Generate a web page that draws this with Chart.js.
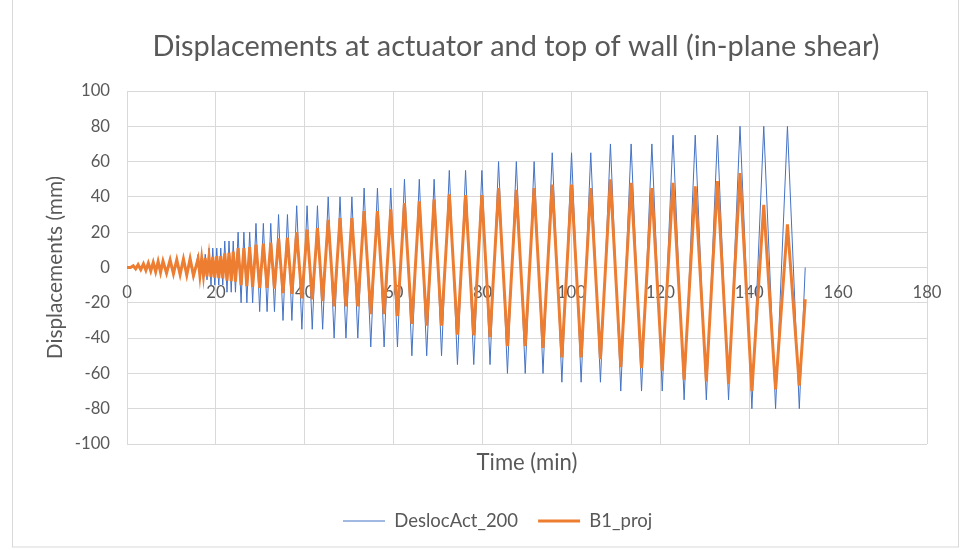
<!DOCTYPE html>
<html><head><meta charset="utf-8">
<script src="https://cdn.jsdelivr.net/npm/chart.js@4.4.1/dist/chart.umd.min.js"></script>
<style>html,body{margin:0;padding:0;background:#fff;}canvas{display:block;}</style>
</head><body>
<canvas id="c" width="965" height="550"></canvas>
<script>
// ---------- data ----------
const chartTitle = 'Displacements at actuator and top of wall (in-plane shear)';
const xTitle = 'Time (min)';
const yTitle = 'Displacements (mm)';
const seriesNames = ['DeslocAct_200', 'B1_proj'];
const xTickValues = [0, 20, 40, 60, 80, 100, 120, 140, 160, 180];
const yTickValues = [-100, -80, -60, -40, -20, 0, 20, 40, 60, 80, 100];

// turning points of the cyclic history (time in minutes)
const timeMin = [
  0, 0.8,
  1.4, 1.95, 2.5, 3.1, 3.7, 4.25, 4.8, 5.35, 5.9, 6.45, 7.0, 7.55, 8.1, 8.9,
  9.7, 10.45, 11.2, 11.95, 12.7, 13.45, 14.2, 14.95,
  16.0, 16.4, 16.8, 17.2, 17.6, 18.0,
  18.45, 18.9, 19.3, 19.75, 20.2, 20.65, 21.1, 21.55,
  22.0, 22.5, 22.95, 23.45, 23.9, 24.4,
  25.0, 25.67, 26.3, 26.97, 27.6, 28.27,
  29.02, 29.85, 30.68, 31.52, 32.35, 33.18,
  34.1, 35.1, 36.1, 37.1,
  38.18, 39.35, 40.52, 41.68, 42.85, 44.02,
  45.27, 46.6, 47.93, 49.27, 50.6, 51.93,
  53.35, 54.85, 56.35, 57.85, 59.35, 60.85,
  62.43, 64.1, 65.77, 67.43, 69.1, 70.77,
  72.52, 74.35, 76.18, 78.02, 79.85, 81.68,
  83.6, 85.6, 87.6, 89.6, 91.6, 93.6,
  95.68, 97.85, 100.02, 102.18, 104.35, 106.52,
  108.77, 111.1, 113.43, 115.77, 118.1, 120.43,
  122.85, 125.35, 127.85, 130.35, 132.85, 135.35,
  137.93, 140.6, 143.27, 145.93, 148.6, 151.27,
  152.6
];
const deslocAct200 = [
  0, 0,
  1.2, -1.0, 1.8, -1.5, 2.3, -2.0, 2.7, -2.5, 3.1, -3.0, 3.6, -3.5, 3.9, -4.0,
  4.5, -4.5, 4.7, -5.0, 5.0, -5.5, 5.3, -6.0,
  7.5, -7, 7.5, -7, 7.5, -7,
  11, -10, 11, -10, 11, -10, 11, -10,
  15, -14, 15, -14, 15, -14,
  20, -20, 20, -20, 20, -20,
  25, -25, 25, -25, 25, -25,
  30, -30, 30, -30,
  35, -35, 35, -35, 35, -35,
  40, -40, 40, -40, 40, -40,
  45, -45, 45, -45, 45, -45,
  50, -50, 50, -50, 50, -50,
  55, -55, 55, -55, 55, -55,
  60, -60, 60, -60, 60, -60,
  65, -65, 65, -65, 65, -65,
  70, -70, 70, -70, 70, -70,
  75, -75, 75, -75, 75, -75,
  80, -80, 80, -80, 80, -80,
  0
];
const b1Proj = [
  0, 0,
  1.0, -0.8, 1.6, -1.2, 2.1, -1.6, 2.5, -2.0, 2.9, -2.4, 3.4, -2.8, 3.6, -3.2,
  4.3, -3.6, 4.4, -4.0, 4.8, -4.3, 5.0, -4.6,
  5, -4.5, 5, -4.5, 5.5, -5,
  6, -5.5, 6, -5.7, 6.5, -6, 6.5, -6.2,
  8, -7.5, 8.5, -7.7, 9, -8,
  11, -10, 11, -10.5, 11.5, -11,
  13, -11.5, 13.5, -11.5, 14, -12,
  16.5, -14.5, 17, -15,
  20, -17.5, 21.5, -18, 22.5, -19,
  27, -22, 28, -22, 28, -22,
  32, -26.5, 32, -26.5, 33, -27.5,
  36.5, -32, 37.5, -33, 38.5, -33,
  41.5, -38, 41, -38.5, 41, -39.5,
  45, -44.5, 44, -44.5, 45, -45.5,
  47, -51, 47, -51, 45, -52,
  50, -56.5, 48, -57, 45, -58.5,
  48, -63.5, 46, -64.5, 49, -66,
  53.5, -70, 35.5, -69, 24.5, -67,
  -18
];

// ---------- styling ----------
const FAMILY = 'Lato';
const TEXT = '#595959';
const GRID = '#d9d9d9';
function fitSize(text, target) {
  const c = document.createElement('canvas').getContext('2d');
  c.font = '100px ' + FAMILY;
  return Math.round(1000 * target / c.measureText(text).width) / 10;
}
const fTitle = fitSize(chartTitle, 728);
const fTick = fitSize('100', 29);
const fYTitle = fitSize(yTitle, 183);
const fXTitle = fitSize(xTitle, 101);
const fLegend = fitSize(seriesNames[0], 124);

const actPts = timeMin.map((t, i) => ({x: t, y: deslocAct200[i]}));
const wallPts = timeMin.map((t, i) => ({x: t, y: b1Proj[i]}));

const frame = {
  id: 'frame',
  beforeDraw(chart) {
    const ctx = chart.ctx;
    ctx.save();
    ctx.strokeStyle = GRID;
    ctx.lineWidth = 1;
    ctx.strokeRect(12.5, -1, 946, 548);
    ctx.restore();
  },
  afterLayout(chart) {
    const t = chart.titleBlock;
    if (t) { const dx = 516 - (t.left + t.right) / 2; t.left += dx; t.right += dx; }
    const l = chart.legend;
    if (l && l.lineWidths) {
      const pad = l.options.labels.padding;
      const start = (l.left + pad + l.right - l.lineWidths[0]) / 2;
      const dx = 343 - start; l.left += dx; l.right += dx;
    }
  }
};

new Chart(document.getElementById('c'), {
  type: 'line',
  data: {
    datasets: [
      { label: seriesNames[0], data: actPts, borderColor: '#4472C4', backgroundColor: '#4472C4',
        borderWidth: 1, pointRadius: 0, tension: 0, order: 1 },
      { label: seriesNames[1], data: wallPts, borderColor: '#ED7D31', backgroundColor: '#ED7D31',
        borderWidth: 3, pointRadius: 0, tension: 0, order: 0 }
    ]
  },
  options: {
    responsive: false, animation: false, devicePixelRatio: 1,
    layout: { padding: { left: 0, right: 38, top: 0, bottom: 19 - fLegend / 2 } },
    plugins: {
      title: { display: true, text: chartTitle, color: TEXT,
        font: { family: FAMILY, size: fTitle, weight: 'normal' },
        padding: { top: 47 - 0.6 * fTitle, bottom: 44 - 0.6 * fTitle } },
      legend: { display: true, position: 'bottom',
        labels: { color: TEXT, font: { family: FAMILY, size: fLegend }, padding: 20,
          usePointStyle: true, pointStyle: 'line', pointStyleWidth: 42,
          sort: (a, b) => a.datasetIndex - b.datasetIndex } },
      tooltip: { enabled: false }
    },
    scales: {
      x: { type: 'linear', position: { y: 0 }, min: 0, max: 180,
        afterBuildTicks: s => { s.ticks = xTickValues.map(v => ({value: v})); },
        ticks: { color: TEXT, font: { family: FAMILY, size: fTick }, padding: 25.5 - 0.6 * fTick,
          maxRotation: 0, autoSkip: false },
        grid: { color: GRID, drawTicks: false },
        border: { color: GRID } },
      xTitleAxis: { type: 'linear', axis: 'x', position: 'bottom', min: 0, max: 180,
        ticks: { display: false }, grid: { display: false, drawTicks: false }, border: { display: false },
        title: { display: true, text: xTitle, color: TEXT, font: { family: FAMILY, size: fXTitle },
          padding: { top: 19 - 0.6 * fXTitle, bottom: (501 - fLegend / 2) - 463 - 0.6 * fXTitle } } },
      y: { type: 'linear', min: -100, max: 100,
        afterBuildTicks: s => { s.ticks = yTickValues.map(v => ({value: v})); },
        afterFit: s => { s.width = 127; },
        ticks: { color: TEXT, font: { family: FAMILY, size: fTick }, padding: 17 },
        grid: { color: GRID, drawTicks: false },
        border: { display: false },
        title: { display: true, text: yTitle, color: TEXT, font: { family: FAMILY, size: fYTitle },
          padding: { top: 55 - 0.6 * fYTitle, bottom: 0 } } }
    }
  },
  plugins: [frame]
});
</script>
</body></html>
